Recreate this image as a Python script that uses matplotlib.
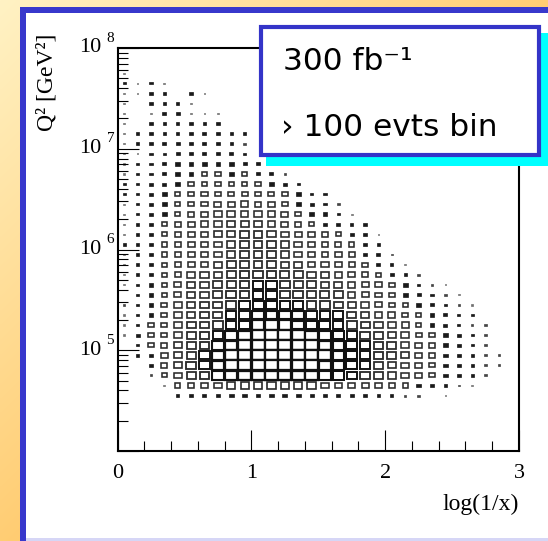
import numpy as np
import matplotlib
matplotlib.use("Agg")
import matplotlib.pyplot as plt
import matplotlib.transforms as mtransforms
from matplotlib.patches import Rectangle
from matplotlib.ticker import MultipleLocator, LogLocator, NullFormatter

# bin centres in log(1/x)
logx_bins = [0.05, 0.15, 0.25, 0.35, 0.45, 0.55, 0.65, 0.75, 0.85, 0.95,
             1.05, 1.15, 1.25, 1.35, 1.45, 1.55, 1.65, 1.75, 1.85, 1.95,
             2.05, 2.15, 2.25, 2.35, 2.45, 2.55, 2.65, 2.75, 2.85]
# bin centres in log10(Q2)
logq2_bins = [7.75, 7.65, 7.55, 7.45, 7.35, 7.25, 7.15, 7.05, 6.95, 6.85,
              6.75, 6.65, 6.55, 6.45, 6.35, 6.25, 6.15, 6.05, 5.95, 5.85,
              5.75, 5.65, 5.55, 5.45, 5.35, 5.25, 5.15, 5.05, 4.95, 4.85,
              4.75, 4.65, 4.55]
bin_w = 0.1
bin_h = 0.1

# relative box size per bin (0 empty .. 9 biggest), one row per logq2 bin
box_size = [
    [1],
    [2, 1, 2, 1],
    [1, 1, 2, 2, 0, 2, 1],
    [1, 0, 2, 2, 2, 1],
    [1, 0, 1, 2.5, 2.5, 1, 1, 1],
    [1, 0, 2, 2, 2, 2, 2, 2],
    [1, 2, 2, 2, 2, 2, 2.5, 2, 2, 2],
    [1, 2, 2, 2.5, 2.5, 2.5, 2.5, 2.5, 2, 1.5],
    [1, 1, 2, 2, 2.5, 2.5, 2.5, 2.5, 2.5, 2],
    [1, 2, 2, 2.5, 3, 3, 3, 3, 3, 2.5, 2.5],
    [1, 2, 2, 2.5, 3, 3, 3.5, 3.5, 3, 3.5, 2.5, 2.5, 1.5],
    [2, 2, 2.5, 2.5, 3, 3.5, 3.5, 3.5, 3.5, 3.5, 3.5, 3, 2.5, 2],
    [2, 2, 2.5, 3, 3.5, 3.5, 4, 4, 4, 4, 4, 4, 3.5, 3, 2, 2],
    [1, 2, 2.5, 3, 3.5, 4, 4, 4.5, 4.5, 5, 4.5, 4.5, 4, 3, 2.5, 2, 1.5],
    [1, 2, 2.5, 3, 3.5, 4, 4.5, 5, 5, 5, 5, 5, 4.5, 3.5, 3, 3, 2, 1],
    [1, 2, 2.5, 3.5, 4, 4.5, 5, 5, 5.5, 5.5, 5.5, 5, 4.5, 4, 3.5, 3, 2.5, 2, 2],
    [1, 2, 2.5, 3.5, 4, 4.5, 5, 5.5, 5.5, 6, 6, 5.5, 5, 4.5, 4, 4, 3.5, 2.5, 2, 1],
    [2, 2, 3, 3.5, 4, 4.5, 5, 5, 5.5, 6, 6, 6, 5.5, 5, 5, 4.5, 4, 3.5, 2.5, 2],
    [1, 2, 2.5, 3.5, 4, 4.5, 5, 5, 5.5, 6, 6, 6, 5.5, 5, 5, 4.5, 4.5, 4, 3, 2.5, 1.5],
    [1, 2, 2.5, 3.5, 4, 4.5, 5, 5.5, 6, 6, 6, 6, 5.5, 5.5, 5, 5, 4.5, 4, 3.5, 2.5, 2, 1],
    [1, 2, 2.5, 3.5, 4, 5, 5.5, 5.5, 6, 6.5, 6.5, 6.5, 6, 6, 5.5, 5.5, 5, 4.5, 4, 3.5, 2.5, 2, 1.5],
    [1, 2, 3, 3.5, 4.5, 5.5, 5.5, 6, 6, 6.5, 7, 7, 6.5, 6, 6, 5.5, 5.5, 5, 4.5, 4, 3.5, 3, 2, 1.5, 1],
    [0, 2, 3, 3.5, 4.5, 5.5, 5.5, 6, 6.5, 6.5, 7, 7, 6.5, 6.5, 6, 6, 6, 5, 4.5, 4, 3.5, 3, 2.5, 2, 1.5, 1],
    [1.5, 2, 3, 4, 5, 5.5, 6, 6, 6.5, 7, 7.5, 7.5, 7, 7, 6.5, 6.5, 6, 5.5, 5, 4.5, 4, 3.5, 3, 2.5, 2, 1.5, 1],
    [1, 2, 3, 4, 5, 5.5, 6, 6, 7, 7, 8, 8, 8, 8, 7, 7, 7, 6, 5.5, 5, 4.5, 4, 3.5, 3, 2.5, 2, 2],
    [1, 2, 3.5, 4, 5, 6, 6, 6.5, 7, 7.5, 8.5, 8.5, 8.5, 8, 7.5, 7.5, 7, 6.5, 6, 5.5, 5, 4.5, 3.5, 3, 2.5, 2, 1.5, 1.5],
    [1, 2.5, 3.5, 4, 5, 6, 6.5, 7, 8, 8.5, 9, 9, 9, 9, 8.5, 8, 7.5, 7, 6.5, 6, 5.5, 5, 4, 3.5, 3, 2.5, 2, 1.5],
    [0, 2, 3.5, 4, 5.5, 6, 6.5, 8, 8.5, 9, 9, 9, 9, 9, 9, 8.5, 8, 7.5, 7, 6.5, 6, 5, 4.5, 4, 3, 2.5, 2, 1.5],
    [0, 2, 3, 4.5, 5.5, 6, 7, 8.5, 9, 9, 9, 9, 9, 9, 9, 9, 8, 7.5, 7, 6.5, 6, 5.5, 4.5, 4, 3, 2.5, 2, 1.5, 1.5],
    [0, 0, 2.5, 4, 5.5, 6.5, 7, 8.5, 9, 9, 9, 9, 9, 9, 9, 8.5, 8, 7.5, 7, 6, 5.5, 5, 4.5, 3.5, 3, 2.5, 2, 1.5, 1.5],
    [0, 0, 1.5, 3.5, 5, 6, 6.5, 8, 8.5, 9, 9, 9, 9, 9, 9, 8, 7.5, 7, 6.5, 6, 5.5, 5, 4.5, 3.5, 3, 2.5, 2, 1.5],
    [0, 0, 0, 1, 3.5, 4, 4.5, 5, 5.5, 5.5, 5.5, 5.5, 5.5, 5.5, 5.5, 5, 5, 4.5, 4.5, 4, 4, 3.5, 3, 2.5, 2, 1.5, 1],
    [0, 0, 0, 0, 2, 2.5, 2.5, 2.5, 3, 3, 3, 3, 3, 3, 2.5, 2.5, 2.5, 2.5, 2, 2, 2, 1.5, 1.5, 0, 1],
]

ytick_decades = [5, 6, 7, 8]
xtick_vals = [0, 1, 2, 3]

W, H = 548, 541
fig = plt.figure(figsize=(W / 100, H / 100), dpi=100)

# slide background: gradient, blue frame, white panel
bg = fig.add_axes([0, 0, 1, 1], zorder=0)
bg.set_xlim(0, W)
bg.set_ylim(H, 0)
bg.axis("off")
gx, gy = np.meshgrid(np.linspace(0, 1, 200), np.linspace(0, 1, 200))
t = np.clip((gx + gy) / 1.2, 0, 1)
c0 = np.array([255, 242, 196]) / 255.0
c1 = np.array([255, 198, 100]) / 255.0
grad = c0[None, None, :] * (1 - t[..., None]) + c1[None, None, :] * t[..., None]
bg.imshow(grad, extent=(0, W, H, 0), aspect="auto", interpolation="bilinear")
bg.add_patch(Rectangle((20, 7), W - 20, H - 7, facecolor="#3838cc", edgecolor="none"))
bg.add_patch(Rectangle((26, 13), W - 26, H - 16, facecolor="white", edgecolor="none"))
bg.add_patch(Rectangle((26, H - 3), W - 26, 3, facecolor="#d6d6f6", edgecolor="none"))

# main plot
ax = fig.add_axes([117.5 / W, 1 - 451 / H, 401.5 / W, 403 / H], zorder=1)
ax.set_facecolor("none")
ax.set_xlim(0, 3)
ax.set_yscale("log")
ax.set_ylim(1e4, 1e8)

for iy, row in enumerate(box_size):
    yc = logq2_bins[iy]
    for ix, s in enumerate(row):
        if s <= 0:
            continue
        f = (s / 9.0) ** 0.92 * 0.97
        w = bin_w * f
        h = bin_h * f
        x0 = logx_bins[ix] - w / 2
        y0 = 10 ** (yc - h / 2)
        y1 = 10 ** (yc + h / 2)
        if s < 3.5:
            col = "#1a1a1a" if s >= 2 else ("#444444" if s >= 1.5 else "#707070")
            ax.add_patch(Rectangle((x0, y0), w, y1 - y0, facecolor=col,
                                   edgecolor=col, lw=0.5))
        else:
            lw = 1.15 + 0.12 * max(0.0, s - 5)
            ec = "#2a2a2a" if s < 7 else "#111111"
            ax.add_patch(Rectangle((x0, y0), w, y1 - y0, facecolor="white",
                                   edgecolor=ec, lw=lw))

for sp in ax.spines.values():
    sp.set_linewidth(1.5)
ax.set_xticks(xtick_vals)
ax.xaxis.set_minor_locator(MultipleLocator(0.2))
ax.yaxis.set_major_locator(LogLocator(base=10, numticks=10))
ax.yaxis.set_minor_locator(LogLocator(base=10, subs=np.arange(2, 10), numticks=20))
ax.yaxis.set_major_formatter(NullFormatter())
ax.yaxis.set_minor_formatter(NullFormatter())
ax.tick_params(which="major", direction="in", length=15, width=0.8,
               top=False, right=False)
ax.tick_params(which="minor", direction="in", length=7.5, width=0.8,
               top=False, right=False)
ax.tick_params(axis="x", labelsize=16, pad=9)
for lab in ax.get_xticklabels():
    lab.set_fontfamily("Liberation Serif")

# ROOT style 10^n labels
lab_tr = mtransforms.offset_copy(ax.get_yaxis_transform(), fig=fig, x=-16.5, y=0, units="dots")
exp_tr = mtransforms.offset_copy(ax.get_yaxis_transform(), fig=fig, x=-11, y=10, units="dots")
for d in ytick_decades:
    ax.text(0, 10.0 ** d, "10", transform=lab_tr, ha="right", va="center",
            fontsize=16, family="Liberation Serif")
    ax.text(0, 10.0 ** d, str(d), transform=exp_tr, ha="left", va="center",
            fontsize=11, family="Liberation Serif")

ax.set_xlabel("log(1/x)", loc="right", fontsize=17, family="Liberation Serif",
              labelpad=8)

# overlay: axis title and text box
ov = fig.add_axes([0, 0, 1, 1], zorder=5)
ov.set_xlim(0, W)
ov.set_ylim(H, 0)
ov.axis("off")
ov.set_facecolor("none")
ov.text(47, 34, "Q\u00b2 [GeV\u00b2]", rotation=90, ha="center", va="top",
        fontsize=17, family="Liberation Serif")

ov.add_patch(Rectangle((266, 33), 290, 133, facecolor="#00ffff", edgecolor="none"))
ov.add_patch(Rectangle((261, 27), 278, 128, facecolor="white", edgecolor="#3434c8", lw=3))
ov.text(283, 61, "300 fb\u207b\u00b9", ha="left", va="center", fontsize=22.5,
        family="DejaVu Sans")
ov.text(281, 127, "\u203a 100 evts bin", ha="left", va="center", fontsize=22.5,
        family="DejaVu Sans")

fig.savefig("out.png", dpi=100)
